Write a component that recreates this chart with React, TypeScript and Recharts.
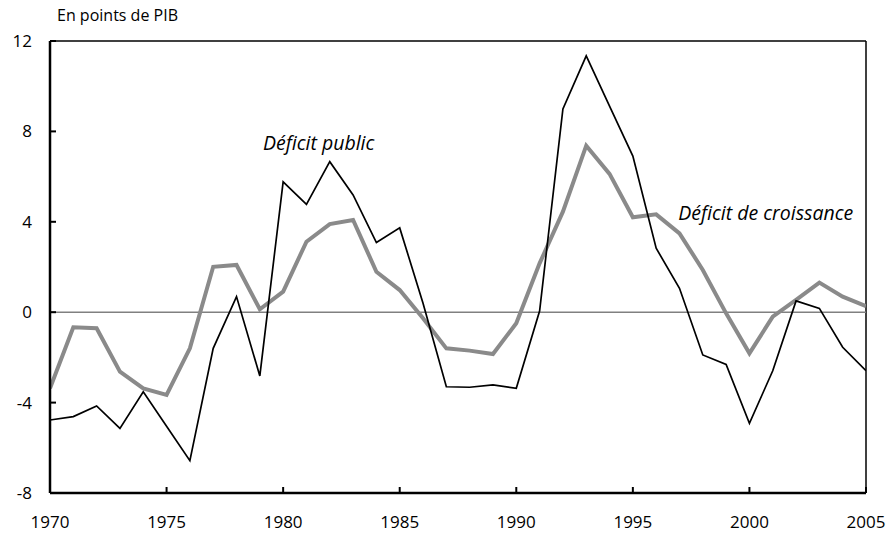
import React from 'react';
import { LineChart, Line, XAxis, YAxis, ReferenceLine, ReferenceDot, Customized } from 'recharts';

const years = [1970,1971,1972,1973,1974,1975,1976,1977,1978,1979,1980,1981,1982,1983,1984,1985,1986,1987,1988,1989,1990,1991,1992,1993,1994,1995,1996,1997,1998,1999,2000,2001,2002,2003,2004,2005];
const deficitPublic = [-4.77,-4.62,-4.15,-5.14,-3.52,-5.05,-6.57,-1.6,0.69,-2.82,5.77,4.77,6.66,5.19,3.08,3.73,0.4,-3.3,-3.32,-3.22,-3.37,0.05,8.99,11.34,9.12,6.91,2.83,1.06,-1.89,-2.31,-4.92,-2.59,0.5,0.17,-1.55,-2.59];
const deficitCroissance = [-3.37,-0.67,-0.71,-2.63,-3.37,-3.66,-1.6,2.01,2.09,0.13,0.91,3.12,3.9,4.08,1.79,0.98,-0.27,-1.6,-1.7,-1.85,-0.49,2.16,4.45,7.37,6.12,4.2,4.33,3.49,1.87,-0.05,-1.82,-0.2,0.54,1.31,0.69,0.27];
const xTicks = [1970,1975,1980,1985,1990,1995,2000,2005];
const yTicks = [-8,-4,0,4,8,12];

const data = years.map((y, i) => ({ year: y, pub: deficitPublic[i], cro: deficitCroissance[i] }));

const FONT = '"Open Sans", sans-serif';

export default function App() {
  return (
    <div style={{ position: 'absolute', left: 0, top: 0 }}>
      <LineChart width={890} height={533} data={data} margin={{ top: 41, right: 24, bottom: 0, left: 0 }}>
        <XAxis
          dataKey="year"
          type="number"
          domain={[1970, 2005]}
          ticks={xTicks}
          height={40}
          allowDataOverflow
          axisLine={{ stroke: '#000', strokeWidth: 2.5 }}
          tickLine={{ stroke: '#000', strokeWidth: 2 }}
          tickSize={-6}
          tickMargin={29}
          tick={{ fill: '#000', fontSize: 17, fontFamily: FONT }}
          interval={0}
        />
        <YAxis
          type="number"
          domain={[-8, 12]}
          ticks={yTicks}
          width={50}
          allowDataOverflow
          axisLine={{ stroke: '#000', strokeWidth: 2.5 }}
          tickLine={{ stroke: '#000', strokeWidth: 2 }}
          tickSize={-6}
          tickMargin={24}
          tick={{ fill: '#000', fontSize: 17, fontFamily: FONT }}
          interval={0}
        />
        <ReferenceLine y={12} stroke="#000" strokeWidth={1.5} />
        <ReferenceLine x={2005} stroke="#000" strokeWidth={1.5} />
        <ReferenceLine y={0} stroke="#808080" strokeWidth={1.5} />
        <Line dataKey="cro" stroke="#8a8a8a" strokeWidth={4} dot={false} isAnimationActive={false} strokeLinejoin="miter" />
        <Line dataKey="pub" stroke="#000" strokeWidth={1.7} dot={false} isAnimationActive={false} strokeLinejoin="miter" />
        <ReferenceDot x={1978.92} y={7.49} r={0} fill="none" stroke="none"
          label={{ value: 'Déficit public', position: 'right', fill: '#000', fontSize: 19.5, fontStyle: 'italic', fontFamily: FONT }} />
        <ReferenceDot x={1996.73} y={4.39} r={0} fill="none" stroke="none"
          label={{ value: 'Déficit de croissance', position: 'right', fill: '#000', fontSize: 19.5, fontStyle: 'italic', fontFamily: FONT }} />
        <Customized component={() => (
          <text x={57} y={21} fontSize={16} fontFamily={FONT} fill="#000">En points de PIB</text>
        )} />
      </LineChart>
    </div>
  );
}
